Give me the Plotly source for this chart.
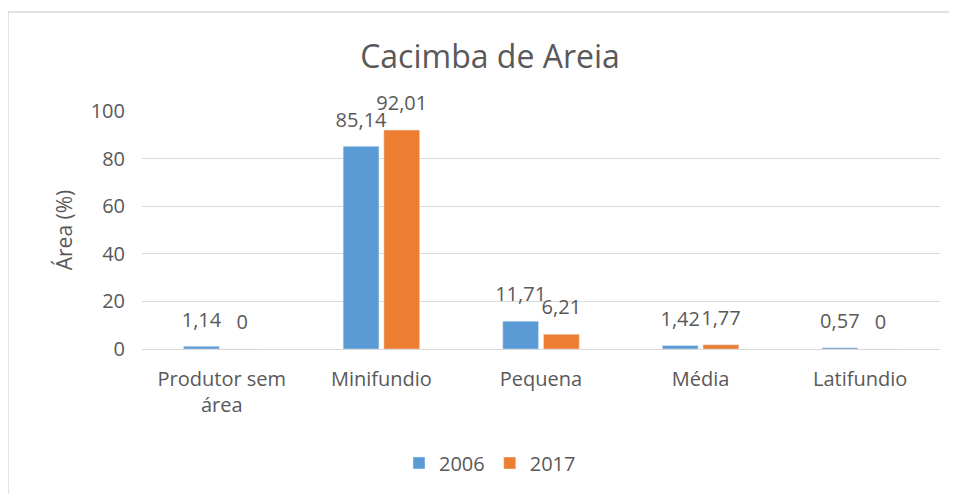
import plotly.graph_objects as go

categories = ["Produtor sem<br>área", "Minifundio", "Pequena", "Média", "Latifundio"]
values_2006 = [1.14, 85.14, 11.71, 1.42, 0.57]
values_2017 = [0, 92.01, 6.21, 1.77, 0]
labels_2006 = ["1,14", "85,14", "11,71", "1,42", "0,57"]
labels_2017 = ["0", "92,01", "6,21", "1,77", "0"]
y_ticks = [0, 20, 40, 60, 80, 100]

FONT = "Open Sans, sans-serif"
GREY = "#595959"
BLUE, ORANGE = "#5B9BD5", "#ED7D31"

# plot area in figure pixels
L, T, R, B = 134, 103, 932, 341
PW, PH = R - L, B - T

fig = go.Figure()
fig.add_trace(go.Bar(x=categories, y=values_2006, name="2006", marker_color=BLUE,
                     offsetgroup="a"))
fig.add_trace(go.Bar(x=categories, y=values_2017, name="2017", marker_color=ORANGE,
                     offsetgroup="b"))

# data labels, grouped like the bars and lifted above them
for vals, labs, grp in ((values_2006, labels_2006, "a"), (values_2017, labels_2017, "b")):
    fig.add_trace(go.Scatter(x=categories, y=vals, text=labs, mode="markers+text",
                             textposition="top center", offsetgroup=grp,
                             marker=dict(size=22, opacity=0), showlegend=False,
                             hoverinfo="skip", cliponaxis=False,
                             textfont=dict(size=20, color=GREY, family=FONT)))

fig.update_layout(
    width=957, height=494,
    margin=dict(l=L, r=957 - R, t=T, b=494 - B),
    paper_bgcolor="white", plot_bgcolor="white",
    font=dict(family=FONT, color=GREY, size=20),
    title=dict(text="Cacimba de Areia", x=482 / 957, xanchor="center",
               y=1 - 49 / 494, yanchor="middle",
               font=dict(size=32, color=GREY, family=FONT)),
    barmode="group", bargap=0.49, bargroupgap=0.12,
    scattermode="group", scattergap=0.49,
    showlegend=True,
    legend=dict(orientation="h", x=(482 - L) / PW, xanchor="center",
                y=(B - 455) / PH, yanchor="middle",
                font=dict(size=20, color=GREY, family=FONT), itemwidth=30,
                tracegroupgap=0),
    xaxis=dict(showline=True, linecolor="#D9D9D9", linewidth=1, ticks="",
               ticklabelstandoff=12,
               tickfont=dict(size=20, color=GREY, family=FONT)),
    yaxis=dict(range=[0, 100], tickvals=y_ticks, showgrid=True, gridcolor="#D9D9D9",
               gridwidth=1, zeroline=False, showline=False, ticks="",
               ticklabelstandoff=16,
               tickfont=dict(size=20, color=GREY, family=FONT),
               title=dict(text="Área (%)", font=dict(size=21, color=GREY, family=FONT), standoff=12)),
    shapes=[dict(type="rect", xref="paper", yref="paper",
                 x0=(0 - L) / PW, x1=(970 - L) / PW,
                 y0=(B - 520) / PH, y1=(B - 4) / PH,
                 line=dict(color="#D9D9D9", width=1.5), fillcolor="rgba(0,0,0,0)", layer="below")],
)

fig.write_html("out.html")
